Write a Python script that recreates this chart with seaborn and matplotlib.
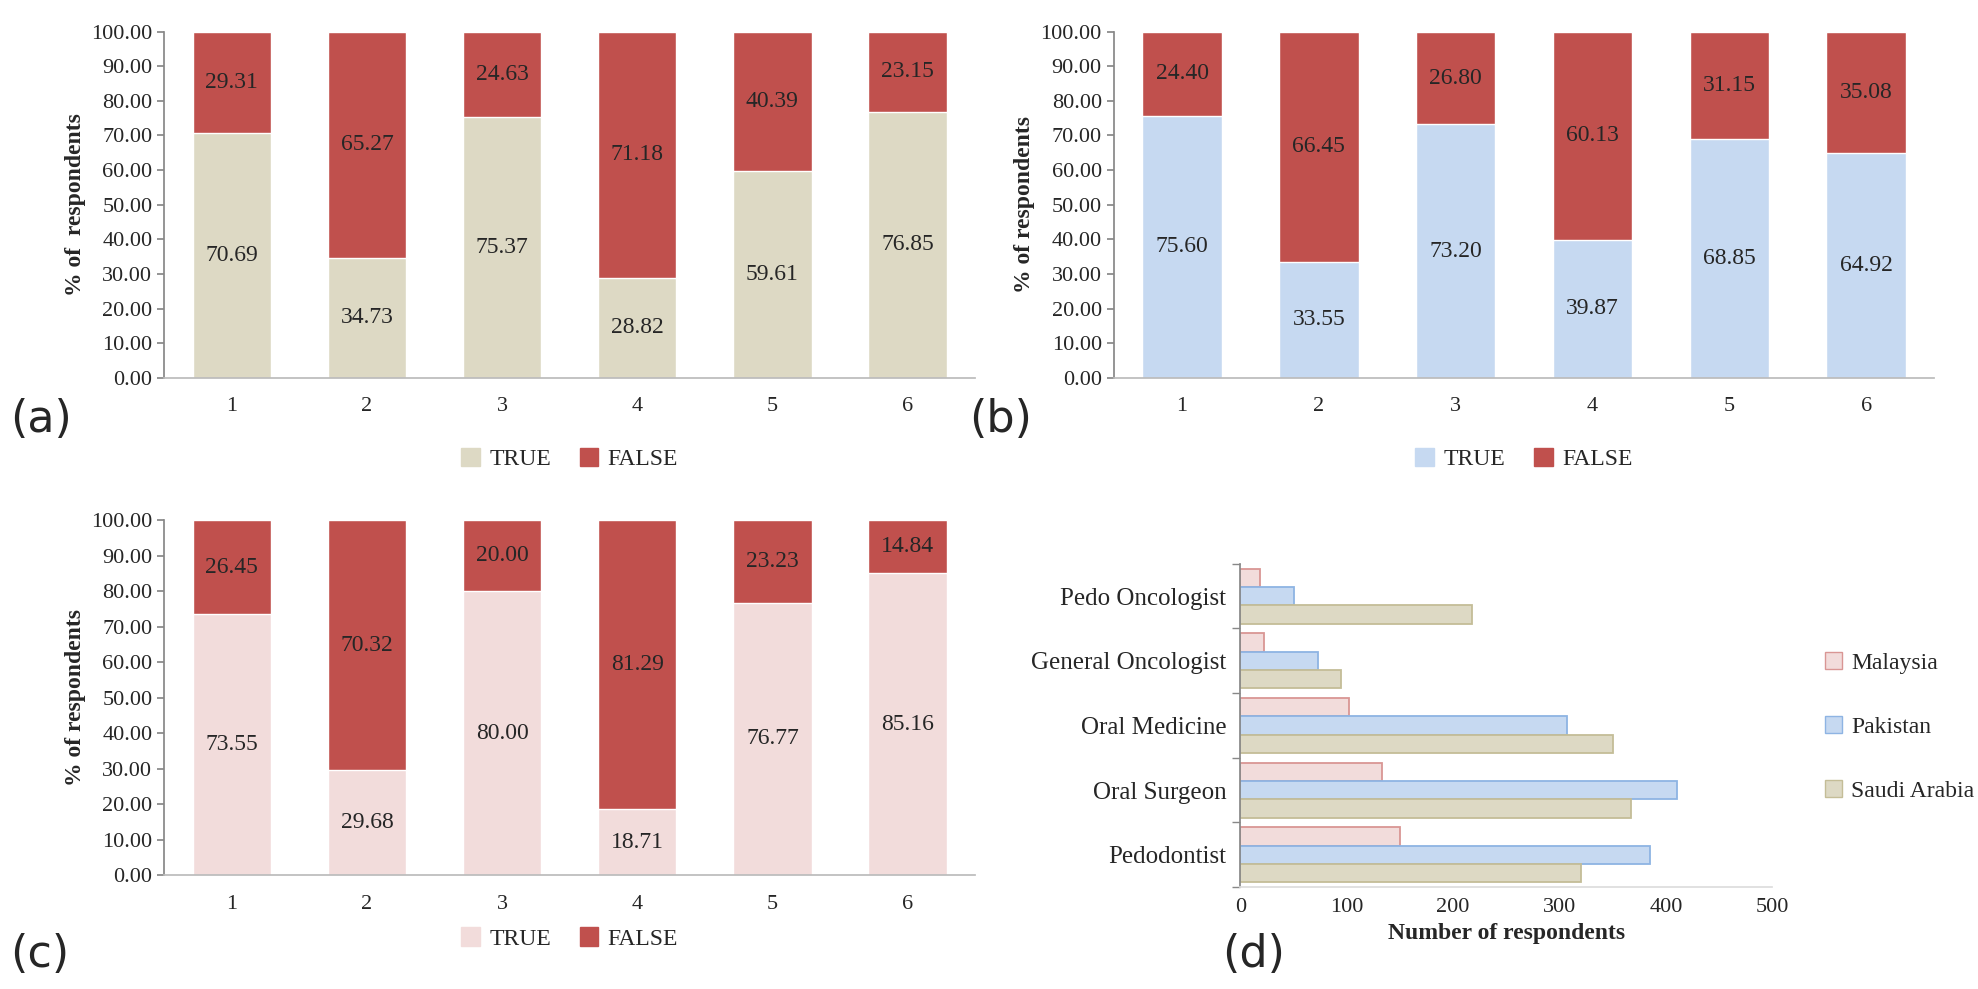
import matplotlib
matplotlib.use("Agg")
import matplotlib.pyplot as plt
import seaborn as sns
import pandas as pd
import numpy as np
from matplotlib.patches import Patch

sns.set_theme(style="white")
plt.rcParams['font.family'] = ['Liberation Serif', 'DejaVu Serif']

questions = ["1", "2", "3", "4", "5", "6"]
true_a = [70.69, 34.73, 75.37, 28.82, 59.61, 76.85]
false_a = [29.31, 65.27, 24.63, 71.18, 40.39, 23.15]
true_b = [75.60, 33.55, 73.20, 39.87, 68.85, 64.92]
false_b = [24.40, 66.45, 26.80, 60.13, 31.15, 35.08]
true_c = [73.55, 29.68, 80.00, 18.71, 76.77, 85.16]
false_c = [26.45, 70.32, 20.00, 81.29, 23.23, 14.84]

specialties = ["Pedo Oncologist", "General Oncologist", "Oral Medicine", "Oral Surgeon", "Pedodontist"]
countries = ["Malaysia", "Pakistan", "Saudi Arabia"]
malaysia = [19, 22, 102, 133, 150]
pakistan = [51, 73, 307, 410, 385]
saudi = [218, 95, 350, 367, 320]

RED = "#C0504D"
fig = plt.figure(figsize=(19.78, 9.89), dpi=100)

def stacked(rect, tv, fv, tcolor, ylabel, leg_y, letter, letter_xy):
    ax = fig.add_axes(rect)
    df = pd.DataFrame({"q": questions, "t": tv, "f": fv})
    df["total"] = df["t"] + df["f"]
    sns.barplot(data=df, x="q", y="total", color=RED, width=0.58, saturation=1, ax=ax)
    sns.barplot(data=df, x="q", y="t", color=tcolor, width=0.58, saturation=1, ax=ax)
    for i, (t, f) in enumerate(zip(tv, fv)):
        ax.text(i, t / 2, f"{t:.2f}", ha="center", va="center", fontsize=17)
        ax.text(i, t + f / 2, f"{f:.2f}", ha="center", va="center", fontsize=17)
    ax.set_ylim(0, 100)
    ax.set_yticks(np.arange(0, 101, 10))
    ax.set_yticklabels([f"{v:.2f}" for v in np.arange(0, 101, 10)], fontsize=16)
    ax.tick_params(axis="x", labelsize=16, length=0, pad=14)
    ax.tick_params(axis="y", length=5, left=True, color="#888888")
    ax.set_xlabel("")
    ax.set_ylabel(ylabel, fontsize=17, fontweight="bold")
    for s in ["top", "right"]:
        ax.spines[s].set_visible(False)
    ax.spines["left"].set_color("#888888")
    ax.spines["bottom"].set_color("#BBBBBB")
    handles = [Patch(color=tcolor, label="TRUE"), Patch(color=RED, label="FALSE")]
    cx = rect[0] + rect[2] / 2
    fig.legend(handles=handles, loc="center", bbox_to_anchor=(cx, leg_y), ncol=2,
               frameon=False, fontsize=17, handlelength=0.8, handleheight=0.8,
               columnspacing=1.2, handletextpad=0.4)
    fig.text(letter_xy[0], letter_xy[1], letter, fontsize=32, family=["DejaVu Sans"])
    return ax

stacked([0.083, 0.618, 0.41, 0.35], true_a, false_a, "#DDD9C4", "% of  respondents", 0.536, "(a)", (0.005, 0.563))
stacked([0.563, 0.618, 0.415, 0.35], true_b, false_b, "#C6D9F1", "% of respondents", 0.536, "(b)", (0.490, 0.563))
stacked([0.083, 0.115, 0.41, 0.359], true_c, false_c, "#F2DCDB", "% of respondents", 0.051, "(c)", (0.005, 0.022))
fig.text(0.618, 0.022, "(d)", fontsize=32, family=["DejaVu Sans"])

# panel (d)
ax = fig.add_axes([0.627, 0.103, 0.269, 0.327])
rows = []
for sp, m, p, s in zip(specialties, malaysia, pakistan, saudi):
    rows += [(sp, "Malaysia", m), (sp, "Pakistan", p), (sp, "Saudi Arabia", s)]
dd = pd.DataFrame(rows, columns=["spec", "country", "n"])
pal = {"Malaysia": "#F2DCDB", "Pakistan": "#C6D9F1", "Saudi Arabia": "#DDD9C4"}
edges = {"Malaysia": "#D99694", "Pakistan": "#8EB4E3", "Saudi Arabia": "#C4BD97"}
sns.barplot(data=dd, y="spec", x="n", hue="country", hue_order=countries, order=specialties,
            palette=pal, saturation=1, orient="h", width=0.85, ax=ax, legend=False)
for cont, c in zip(ax.containers, countries):
    for b in cont:
        b.set_edgecolor(edges[c]); b.set_linewidth(1.3)
ax.set_xlim(0, 500)
ax.set_xticks([0, 100, 200, 300, 400, 500])
ax.tick_params(axis="x", labelsize=16, length=0, pad=8)
ax.tick_params(axis="y", labelsize=18, length=0, pad=10)
ax.set_yticks(np.arange(-0.5, 5, 1), minor=True)
ax.tick_params(axis="y", which="minor", length=6, left=True, color="#888888")
ax.set_ylim(4.5, -0.5)
ax.set_ylabel("")
ax.set_xlabel("Number of respondents", fontsize=17, fontweight="bold")
for s in ["top", "right"]:
    ax.spines[s].set_visible(False)
ax.spines["left"].set_color("#888888")
ax.spines["bottom"].set_color("#DDDDDD")
handles = [Patch(facecolor=pal[c], edgecolor=edges[c], label=c) for c in countries]
fig.legend(handles=handles, loc="center left", bbox_to_anchor=(0.912, 0.265), frameon=False,
           fontsize=17, handlelength=0.7, handleheight=0.7, labelspacing=1.8, handletextpad=0.4)

fig.savefig("out.png", dpi=100)
